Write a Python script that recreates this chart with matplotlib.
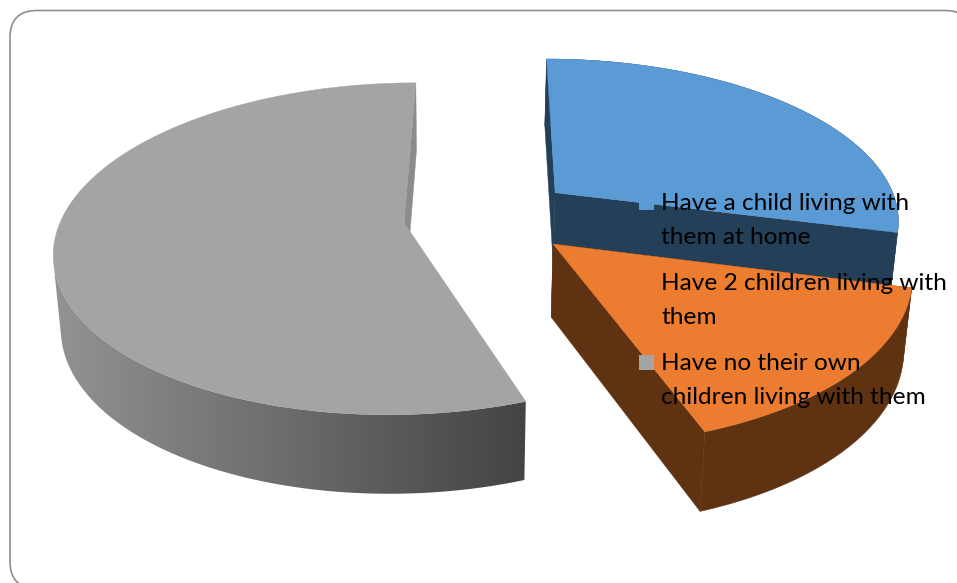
import numpy as np
import matplotlib
matplotlib.use("Agg")
import matplotlib.pyplot as plt
from matplotlib.patches import FancyBboxPatch, Polygon, Rectangle
from matplotlib.colors import LinearSegmentedColormap

# --- data
categories = ["Have a child living with\nthem at home",
              "Have 2 children living with\nthem",
              "Have no their own\nchildren living with them"]
shares = [29.0, 15.5, 55.5]

top_colors = ["#5B9BD5", "#EB7C30", "#A4A4A4"]
side_colors = ["#243F58", "#5F3212", "#8C8C8C"]

# --- projection of the tilted pie onto the page (pixels)
XC, YH, A, B, K = 491.0, 218.0, 346.0, 162.0, 0.157
OFFSETS = [(0.19, 0.16), (0.175, -0.157), (-0.25, -0.03)]
RADII = [1.0, 0.995, 0.99]
WALL_LIMIT = 256  # degrees: past this, the gray rim is hidden behind the top face


def project(X, Y):
    D = 1 + K * Y
    return XC + A * X / D, YH - B * Y / D


def drop(x, y):
    """Point on the lower face beneath a top-face point."""
    return 452 + 0.981 * (x - 452), 1.035 * y + 64.5


fig = plt.figure(figsize=(9.57, 5.83), dpi=100, facecolor="white")
ax = fig.add_axes([0, 0, 1, 1])

ax.add_patch(FancyBboxPatch((35, 35.5), 912, 528, boxstyle="round,pad=25,rounding_size=27",
                            fc="white", ec="#8E8E8E", lw=1.2, zorder=0))

wall_cmap = LinearSegmentedColormap.from_list(
    "wall", ["#939393", "#7E7E7E", "#6C6C6C", "#575757", "#444444"])

edges = np.concatenate([[0], np.cumsum(shares)]) * 3.6
z = 1
for i, (t0, t1) in enumerate(zip(edges[:-1], edges[1:])):
    deg = np.linspace(t0, t1, 240)
    th = np.radians(deg)
    ox, oy = OFFSETS[i]
    ax0, ay0 = project(ox, oy)
    rx, ry = project(ox + RADII[i] * np.sin(th), oy + RADII[i] * np.cos(th))
    lx, ly = drop(rx, ry)
    lax, lay = drop(ax0, ay0)
    # outer wall
    if i == 2:
        m = deg <= WALL_LIMIT
        wall = np.column_stack([np.r_[rx[m], lx[m][::-1]], np.r_[ry[m], ly[m][::-1]]])
        x0, x1, y0, y1 = wall[:, 0].min(), wall[:, 0].max(), wall[:, 1].min(), wall[:, 1].max()
        clip = Polygon(wall, fc="none", ec="none", transform=ax.transData)
        ax.add_patch(clip)
        im = ax.imshow(np.linspace(0, 1, 256)[None, :], cmap=wall_cmap, aspect="auto",
                       extent=(x0, x1, y1, y0), zorder=z)
        im.set_clip_path(clip)
    else:
        wall = np.column_stack([np.r_[rx, lx[::-1]], np.r_[ry, ly[::-1]]])
        ax.add_patch(Polygon(wall, fc=side_colors[i], ec=side_colors[i], lw=0.3, zorder=z))
    # radial walls (the gray one that meets the front rim stays hidden under the top face)
    for j in ((-1,) if i == 2 else (0, -1)):
        ax.add_patch(Polygon([(ax0, ay0), (rx[j], ry[j]), (lx[j], ly[j]), (lax, lay)],
                             fc=side_colors[i], ec=side_colors[i], lw=0.3, zorder=z))
    # top face
    ax.add_patch(Polygon(np.column_stack([np.r_[ax0, rx], np.r_[ay0, ry]]),
                         fc=top_colors[i], ec=top_colors[i], lw=0.3, zorder=z + 1))
    z += 2

# legend
legend_y = [220.5, 300.5, 380.5]
for label, color, y in zip(categories, top_colors, legend_y):
    ax.add_patch(Rectangle((639, y - 25.5), 15, 15, fc=color, ec="none", zorder=20))
    ax.text(661, y, label, fontsize=17.55, family="Lato", color="black",
            va="center", ha="left", linespacing=1.74, zorder=21)

ax.set_xlim(0, 957)
ax.set_ylim(583, 0)
ax.axis("off")
fig.savefig("out.png", dpi=100)
